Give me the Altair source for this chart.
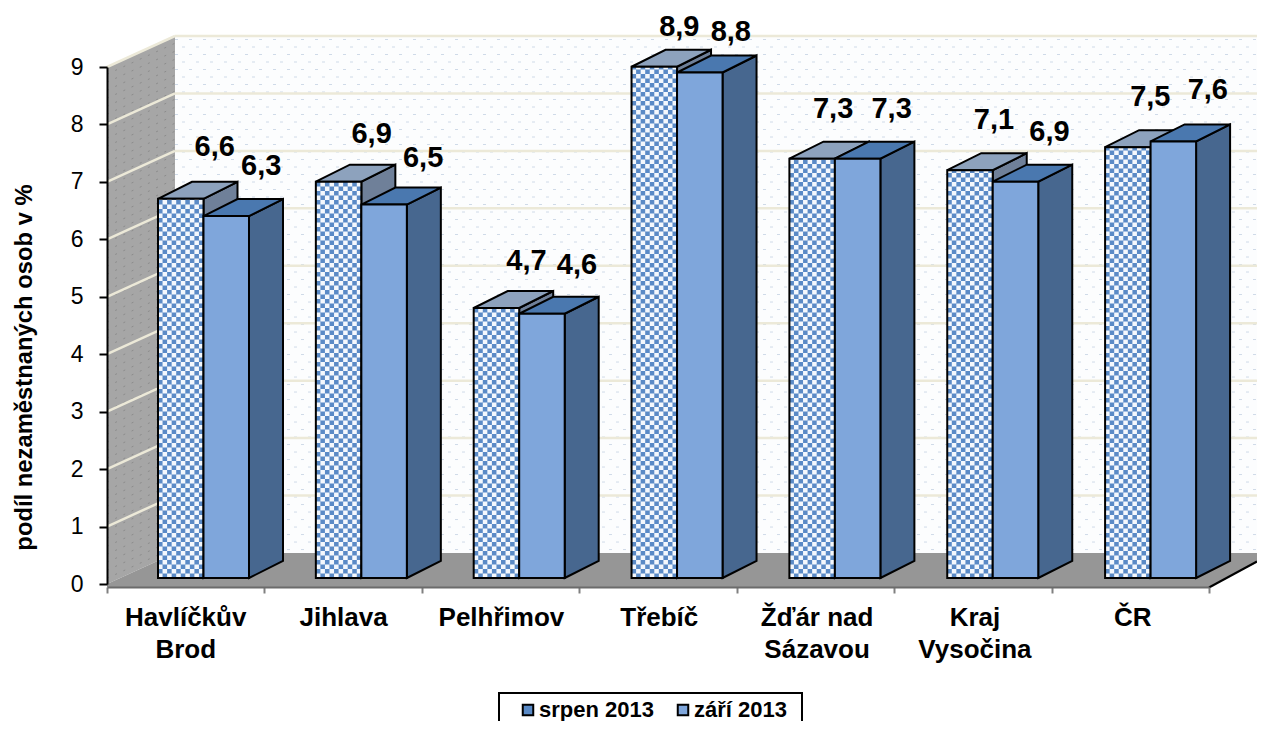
import altair as alt
import pandas as pd

categories = ["Havlíčkův\nBrod", "Jihlava", "Pelhřimov", "Třebíč", "Žďár nad\nSázavou", "Kraj\nVysočina", "ČR"]
series_names = ["srpen 2013", "září 2013"]
srpen = [6.6, 6.9, 4.7, 8.9, 7.3, 7.1, 7.5]
zari = [6.3, 6.5, 4.6, 8.8, 7.3, 6.9, 7.6]
value_text = [["6,6", "6,9", "4,7", "8,9", "7,3", "7,1", "7,5"],
              ["6,3", "6,5", "4,6", "8,8", "7,3", "6,9", "7,6"]]

XU, YU = 157.43, 57.44           # pixels per category / per value unit
W, H = 1102, 517
SP = 157.85 / XU                 # spacing of the bar groups along x
BAR_L, BAR_W = 51 / XU, 45.5 / XU
BASE = 6 / YU
DX, DY = 34 / XU, 17 / YU
WX, WY = 68 / XU, 31 / YU
XEND = 1150 / XU
YMAX = 9
FONT = "Liberation Sans"

xs = alt.Scale(domain=[0, 7], nice=False, zero=False)
ys = alt.Scale(domain=[0, 9], nice=False, zero=False)
AX = alt.Axis(values=list(range(8)), labels=False, grid=False, offset=3, tickSize=6, tickColor="#808080",
              tickWidth=2, domainColor="#6b6b6b", domainWidth=2, zindex=1)
AY = alt.Axis(values=list(range(10)), grid=False, tickSize=8, tickColor="black", tickWidth=2,
              domainColor="black", domainWidth=2, labelFont=FONT, labelFontSize=23, labelColor="black",
              labelPadding=16, titleFont=FONT, titleFontSize=23.8, titleFontWeight="bold", titleColor="black",
              titleX=-71, titleY=300, zindex=1)
YTITLE = "podíl nezaměstnaných osob v %"
X = lambda f="x": alt.X(f"{f}:Q", scale=xs, axis=AX, title=None)
Y = lambda f="y": alt.Y(f"{f}:Q", scale=ys, axis=AY, title=YTITLE)

def area(rows, **kw):
    return alt.Chart(pd.DataFrame(rows)).mark_area(**kw).encode(
        x=X(), y=Y(), y2=alt.Y2("y2:Q"), detail="g:N")

def lines(rows, **kw):
    return alt.Chart(pd.DataFrame(rows)).mark_line(**kw).encode(
        x=X(), y=Y(), detail="g:N", order="o:Q")

def poly(g, pts):
    return [dict(g=g, o=k, x=p[0], y=p[1], y2=p[2]) for k, p in enumerate(pts)]

def seg(g, a, b):
    return [dict(g=g, o=0, x=a[0], y=a[1]), dict(g=g, o=1, x=b[0], y=b[1])]

layers = []

# back wall
layers.append(area(poly("w", [(WX, WY, YMAX + WY), (XEND, WY, YMAX + WY)]), color="#FCFDFE"))
dot_rows = []
row = 0
v = WY + 0.06
while v < YMAX + WY:
    dot_rows.append(dict(g=row, o=0, x=WX + (row % 2) * 7 / XU, y=v))
    dot_rows.append(dict(g=row, o=1, x=XEND, y=v))
    row += 1
    v += 7.5 / YU
layers.append(lines(dot_rows, color="#CFDAE8", strokeWidth=1, strokeDash=[3, 11]))

# side wall
layers.append(area(poly("s", [(0, 0, YMAX), (WX, WY, YMAX + WY)]), color="#A6A6A6"))
side_rows = []
row = 0
v = 0.1
while v < YMAX:
    side_rows += seg(row, (0, v), (WX, v + WY))
    row += 1
    v += 8 / YU
layers.append(lines(side_rows, color="#8C8C8C", strokeWidth=1, strokeDash=[2, 7]))

# gridlines on the walls
grid_rows = []
for t in range(1, 10):
    grid_rows += seg(f"a{t}", (0, t), (WX, t + WY))
    grid_rows += seg(f"b{t}", (WX, t + WY), (XEND, t + WY))
layers.append(lines(grid_rows, color="#ECE9D8", strokeWidth=2.5))

# floor
FLOOR = -3.5 / YU
layers.append(area(poly("f", [(0, 0, FLOOR), (WX, WY, FLOOR), (7, WY, FLOOR), (XEND, WY, FLOOR + 25 / YU)]),
                   color="#969696"))
layers.append(lines(seg("e", (7, FLOOR), (XEND, FLOOR + 26 / YU)), color="black", strokeWidth=2))

# bars
for s, (vals, side_c, top_c) in enumerate([(srpen, "#6F8099", "#8DA2BD"), (zari, "#47678F", "#4A78AF")]):
    left = [i * SP + BAR_L + s * BAR_W for i in range(7)]
    side, top = [], []
    for i, v in enumerate(vals):
        r = left[i] + BAR_W
        t = BASE + v
        side += poly(i, [(r, BASE, t), (r + DX, BASE + DY, t + DY)])
        top += poly(i, [(left[i], t, t), (left[i] + DX, t, t + DY), (r, t, t + DY), (r + DX, t + DY, t + DY)])
    layers.append(area(side, color=side_c, stroke="black", strokeWidth=2))
    layers.append(area(top, color=top_c, stroke="black", strokeWidth=2))
    front = pd.DataFrame(dict(x=left, x2=[a + BAR_W for a in left], y=[BASE] * 7,
                              y2=[BASE + v for v in vals], s=[series_names[s]] * 7))
    layers.append(alt.Chart(front).mark_rect().encode(
        x=X(), x2="x2:Q", y=Y(), y2="y2:Q",
        color=alt.Color("s:N", scale=alt.Scale(domain=series_names, range=["#5A8AC6", "#7FA6DB"]),
                        legend=alt.Legend(title=None, orient="none", legendX=410, legendY=632, direction="horizontal",
                                          columns=2, symbolType="square", symbolSize=110, symbolStrokeColor="black",
                                          symbolStrokeWidth=2, labelFont=FONT, labelFontSize=22,
                                          labelFontWeight="bold", labelColor="black", columnPadding=18,
                                          labelOffset=0))))
    if s == 0:
        CELL = BAR_W / 10
        for offset in (0, 1):
            cols = []
            for i, v in enumerate(vals):
                for k in range(10):
                    if k % 2 == offset:
                        cols.append(dict(x=left[i] + (k + 0.5) * CELL, y=BASE, y2=BASE + v))
            layers.append(alt.Chart(pd.DataFrame(cols)).mark_rule(
                color="#F4F8FD", strokeWidth=4.55, strokeDash=[4.5, 4.5], strokeDashOffset=offset * 4.5
            ).encode(x=X(), y=Y(), y2="y2:Q"))
    layers.append(alt.Chart(front).mark_rect(fillOpacity=0, stroke="black", strokeWidth=2).encode(
        x=X(), x2="x2:Q", y=Y(), y2="y2:Q"))

# data labels
nudge = {(0, 0): (4, -2), (0, 1): (3, 2), (0, 2): (0, 3), (0, 3): (-5, 10), (0, 4): (-9, 0), (0, 5): (-6, 0), (0, 6): (-7.5, 0),
         (1, 0): (5, 0), (1, 1): (9, 3), (1, 2): (5, 1), (1, 3): (1, 10), (1, 4): (4, 0), (1, 5): (4, 0), (1, 6): (4.5, -1)}
for s, vals in enumerate([srpen, zari]):
    for i, v in enumerate(vals):
        dx, dy = nudge[(s, i)]
        lab = pd.DataFrame([dict(x=i * SP + BAR_L + (s + 0.5) * BAR_W, y=BASE + v, t=value_text[s][i])])
        layers.append(alt.Chart(lab).mark_text(font=FONT, fontSize=29, fontWeight="bold", color="black",
                                               dx=30 + dx, dy=-50 + dy).encode(x=X(), y=Y(), text="t:N"))

# category labels
cat_df = pd.DataFrame(dict(x=[i * SP + 0.5 for i in range(7)], t=categories))
layers.append(alt.Chart(cat_df).mark_text(font=FONT, fontSize=26, fontWeight="bold", color="black",
                                          baseline="alphabetic", lineBreak="\n", lineHeight=31.5,
                                          align="center").encode(
    x=X(), y=alt.value(559), text="t:N"))

# legend frame (its lower edge runs off the page, as in the reference)
layers.insert(0, alt.Chart(pd.DataFrame({"a": [0]})).mark_rect(fill="white", stroke="black", strokeWidth=2).encode(
    x=alt.value(392), x2=alt.value(695), y=alt.value(626), y2=alt.value(680)))

chart = alt.layer(*layers).properties(
    width=W, height=H, padding={"left": 99, "top": 59, "right": 48, "bottom": 137},
    autosize=alt.AutoSizeParams(type="none"), background="white"
).configure_view(stroke=None)

chart.save("out.html", embed_options={"renderer": "svg", "actions": False})
